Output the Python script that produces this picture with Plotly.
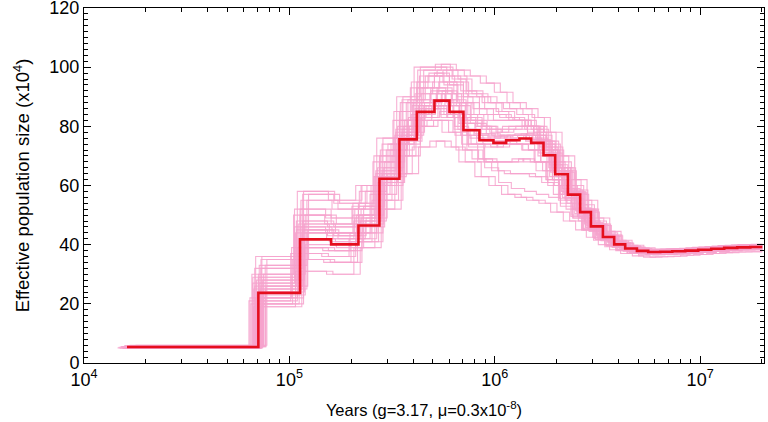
import plotly.graph_objects as go

# Main PSMC estimate: interval start times (years) and Ne (x10^4)
main_t = [16196, 70630, 112700, 159700, 216900, 274500, 343400, 417400, 508600,
          601800, 703900, 842300, 985500, 1136000, 1319000, 1504000, 1727000,
          1969000, 2270000, 2606000, 2939000, 3362000, 3815000, 4317000, 4923000,
          5587000, 6391000, 7314000, 8462000, 9789000, 11330000, 13100000,
          15160000, 17540000]
main_end = 20070000
main_ne = [5.4, 23.7, 41.8, 40.1, 46.5, 62.3, 75.6, 84.9, 88.7, 84.9, 78.7, 75.3,
           74.4, 75.3, 75.9, 74.4, 70.2, 63.8, 56.9, 51.0, 46.2, 42.6, 40.1, 38.7,
           37.9, 37.5, 37.6, 37.8, 38.0, 38.3, 38.6, 38.9, 39.1, 39.2]

# Bootstrap replicates: Ne profiles per interval, and the time scales of the
# replicates that share each profile
boot_scales = [
    [1.00, 0.93, 1.06], [0.92, 0.99, 1.04], [1.08, 1.01], [0.95, 1.02],
    [1.03, 0.96, 1.09], [0.97, 1.04, 0.91], [1.05, 0.98], [0.90, 0.97],
    [1.10, 1.03], [0.98, 1.05], [1.02, 0.95, 1.08], [0.94, 1.01],
    [1.06], [1.00, 0.94], [0.96, 1.03], [1.04, 0.97],
]
boot_ne = [
    [5.6, 30, 50, 47, 53, 68, 82, 93, 97, 95, 90, 86, 84, 83, 82, 79, 74, 66, 58, 52, 47, 43, 40.8, 39.3, 38.5, 38.1, 38.2, 38.4, 38.6, 38.9, 39.2, 39.5, 39.7, 39.8],
    [5.0, 20, 35, 34, 41, 55, 70, 80, 82, 78, 72, 69, 68, 68, 69, 68, 65, 60, 54, 49, 45, 41.8, 39.5, 38.2, 37.3, 36.9, 37.0, 37.2, 37.4, 37.7, 38.0, 38.3, 38.5, 38.6],
    [5.8, 33, 55, 52, 58, 72, 88, 99, 101, 99, 97, 94.6, 91.5, 88, 86, 83, 78, 70, 62, 55, 49, 44.5, 41.5, 39.8, 38.9, 38.4, 38.5, 38.7, 38.9, 39.2, 39.5, 39.8, 40.0, 40.1],
    [4.9, 19, 31, 30, 39, 52, 64, 73, 75, 73, 68, 63, 60, 57, 56, 55, 54, 51, 48, 45, 42.5, 40, 38.3, 37, 36.2, 35.8, 35.9, 36.1, 36.4, 36.7, 37.0, 37.3, 37.5, 37.6],
    [5.5, 26, 45, 43, 49, 64, 78, 88, 92, 88, 82, 79, 78, 79, 80, 78, 73, 66, 58.5, 52, 47, 43.3, 40.6, 39.1, 38.3, 37.9, 38.0, 38.2, 38.4, 38.7, 39.0, 39.3, 39.5, 39.6],
    [5.3, 22, 39, 38, 44, 60, 74, 83, 87, 83, 77, 74, 73, 74, 74, 72, 68, 62, 55.5, 50, 45.5, 42, 39.7, 38.4, 37.6, 37.2, 37.3, 37.5, 37.7, 38.0, 38.3, 38.6, 38.8, 38.9],
    [5.7, 28, 47, 44, 50, 66, 80, 91, 95, 91, 84, 80, 77, 76, 77, 76, 72, 65, 57.5, 51.5, 46.8, 43, 40.4, 39.0, 38.2, 37.8, 37.9, 38.1, 38.3, 38.6, 38.9, 39.2, 39.4, 39.5],
    [5.1, 21, 37, 36, 42, 57, 72, 82, 86, 84, 79, 76, 75, 75, 74, 72, 68, 62, 55, 49.5, 45, 41.5, 39.3, 38, 37.2, 36.8, 36.9, 37.1, 37.3, 37.6, 37.9, 38.2, 38.4, 38.5],
    [6.0, 35, 57, 54, 60, 74, 89, 97, 99, 96, 91, 88, 85, 82, 80, 77, 72, 65, 57, 51, 46.5, 43, 40.5, 39.1, 38.3, 37.9, 38.0, 38.2, 38.4, 38.7, 39.0, 39.3, 39.5, 39.6],
    [5.2, 24, 42, 41, 47, 61, 76, 86, 89, 83, 74, 68, 65, 64, 64, 63, 61, 57, 52, 48, 44.5, 41.3, 39.1, 37.8, 37.0, 36.6, 36.7, 36.9, 37.1, 37.4, 37.7, 38.0, 38.2, 38.3],
    [5.5, 25, 44, 42, 48, 63, 77, 87, 91, 87, 81, 77.5, 76.5, 77, 77.5, 75.5, 71, 64.5, 57.5, 51.5, 46.5, 42.8, 40.3, 38.9, 38.1, 37.7, 37.8, 38.0, 38.2, 38.5, 38.8, 39.1, 39.3, 39.4],
    [5.3, 27, 46, 44, 50, 63, 76, 84, 87, 84, 79, 77, 76, 77, 77, 75, 70, 63, 56, 50.5, 45.8, 42.3, 39.9, 38.5, 37.7, 37.3, 37.4, 37.6, 37.8, 38.1, 38.4, 38.7, 38.9, 39.0],
    [5.6, 23, 40, 39, 46, 61, 75, 83, 85, 80, 73, 66, 61, 59, 58, 57, 56, 53, 49, 46, 43.5, 41, 39, 37.8, 37.0, 36.6, 36.7, 36.9, 37.1, 37.4, 37.7, 38.0, 38.2, 38.3],
    [5.4, 29, 52, 49, 54, 70, 85, 95, 98, 94, 88, 84, 82, 82, 82, 80, 75, 67, 59, 52.5, 47.5, 43.6, 41, 39.5, 38.7, 38.3, 38.4, 38.6, 38.8, 39.1, 39.4, 39.7, 39.9, 40.0],
    [5.0, 32, 48, 46, 52, 65, 79, 89, 93, 89, 83, 80, 79, 80, 80, 77, 72, 65, 57, 51, 46.3, 42.5, 40.0, 38.6, 37.8, 37.4, 37.5, 37.7, 37.9, 38.2, 38.5, 38.8, 39.0, 39.1],
    [5.9, 36, 58, 55, 60, 76, 90, 100, 100, 97, 92, 90, 88, 86, 84, 80, 75, 68, 60, 53.5, 48, 44, 41.2, 39.6, 38.7, 38.2, 38.3, 38.5, 38.7, 39.0, 39.3, 39.6, 39.8, 39.9],
]

x_ticks = [1e4, 1e5, 1e6, 1e7]
x_tick_text = ["10<sup>4</sup>", "10<sup>5</sup>", "10<sup>6</sup>", "10<sup>7</sup>"]
x_minor = [m * 10 ** e for e in range(4, 8) for m in range(2, 10)]
y_ticks = [0, 20, 40, 60, 80, 100, 120]

fig = go.Figure()

for scales, ne in zip(boot_scales, boot_ne):
    for s in scales:
        xs = [t * s for t in main_t] + [main_end]
        ys = ne + [ne[-1]]
        fig.add_trace(go.Scatter(x=xs, y=ys, mode="lines", line_shape="hv",
                                 line=dict(color="rgba(246,162,204,0.85)", width=1.1),
                                 showlegend=False, hoverinfo="skip"))

fig.add_trace(go.Scatter(x=main_t + [main_end], y=main_ne + [main_ne[-1]],
                         mode="lines", line_shape="hv",
                         line=dict(color="#e50e1e", width=2.6),
                         showlegend=False))

base_font = dict(family="Liberation Sans, Arial, sans-serif", size=18, color="black")

fig.update_layout(
    width=768, height=422,
    margin=dict(l=84, r=4, t=8, b=59),
    plot_bgcolor="white", paper_bgcolor="white",
    font=base_font,
    xaxis=dict(type="log", range=[4, 7.311], tickmode="array", tickvals=x_ticks,
               ticktext=x_tick_text, automargin=False, ticklabeloverflow="allow",
               ticks="inside", ticklen=7, tickwidth=1, tickcolor="black",
               showline=True, linecolor="black", linewidth=1, mirror="allticks",
               showgrid=False, zeroline=False,
               minor=dict(tickvals=x_minor, ticks="inside", ticklen=4,
                          tickcolor="black", showgrid=False),
               title=dict(text="Years (g=3.17, μ=0.3x10<sup>-8</sup>)",
                          font=dict(size=16.5), standoff=15),
               tickfont=dict(size=18)),
    yaxis=dict(range=[0, 120], tickmode="array", tickvals=y_ticks, automargin=False,
               ticklabeloverflow="allow",
               ticks="inside", ticklen=7, tickwidth=1,
               tickcolor="black", showline=True, linecolor="black", linewidth=1,
               mirror="allticks", showgrid=False, zeroline=False,
               minor=dict(dtick=2, ticks="inside", ticklen=4, tickcolor="black",
                          showgrid=False),
               title=dict(text="Effective population size (x10<sup>4</sup>)",
                          font=dict(size=18.5), standoff=14),
               tickfont=dict(size=18)),
)

fig.write_html("out.html", config={"displayModeBar": False},
               post_script="document.body.style.margin='0';document.body.style.overflow='hidden';")
